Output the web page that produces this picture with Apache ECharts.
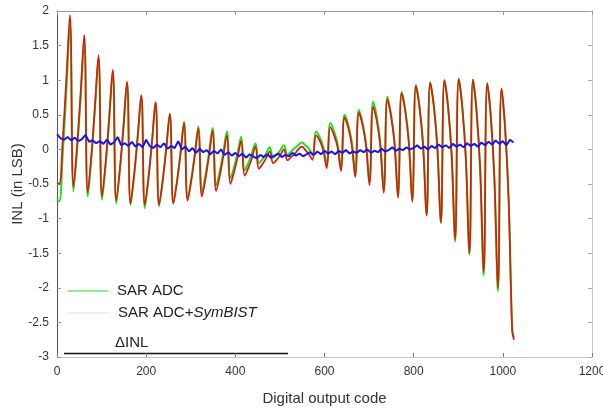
<!DOCTYPE html>
<html>
<head>
<meta charset="utf-8">
<script src="https://cdn.jsdelivr.net/npm/echarts@6/dist/echarts.min.js"></script>
<style>
  html, body { margin: 0; padding: 0; background: #fff; }
  #chart { width: 603px; height: 409px; }
</style>
</head>
<body>
<div id="chart"></div>
<script>
// ---- Data ----
const xTicks = [0, 200, 400, 600, 800, 1000, 1200];
const yTicks = [-3, -2.5, -2, -1.5, -1, -0.5, 0, 0.5, 1, 1.5, 2];

// sample codes for the INL traces: 0, then 5,13,21,29,... (4 samples per 32-code cycle), then 1025
const inlCodes = [0].concat(Array.from({ length: 128 }, (_, j) => 5 + 8 * j), [1025]);

// SAR ADC (green)
const sarAdc = [
  -0.72,
  -0.75, -0.05, 0.85, 1.80,
  -0.60, -0.02, 0.74, 1.55,
  -0.68, -0.14, 0.57, 1.32,
  -0.73, -0.24, 0.42, 1.12,
  -0.78, -0.31, 0.30, 0.96,
  -0.80, -0.38, 0.19, 0.78,
  -0.85, -0.44, 0.10, 0.68,
  -0.82, -0.46, 0.01, 0.52,
  -0.78, -0.47, -0.04, 0.40,
  -0.72, -0.44, -0.07, 0.33,
  -0.62, -0.37, -0.05, 0.31,
  -0.52, -0.32, -0.04, 0.26,
  -0.42, -0.26, -0.05, 0.18,
  -0.30, -0.20, -0.06, 0.09,
  -0.20, -0.14, -0.06, 0.03,
  -0.12, -0.08, -0.01, 0.06,
  -0.08, -0.03, 0.02, 0.06,
  0.10, 0.06, 0.01, -0.08,
  0.26, 0.18, 0.04, -0.22,
  0.38, 0.27, 0.09, -0.26,
  0.50, 0.36, 0.12, -0.35,
  0.57, 0.40, 0.10, -0.47,
  0.69, 0.48, 0.11, -0.60,
  0.76, 0.52, 0.11, -0.68,
  0.83, 0.58, 0.13, -0.74,
  0.93, 0.63, 0.08, -0.94,
  0.97, 0.64, 0.04, -1.06,
  1.00, 0.62, -0.07, -1.33,
  1.02, 0.61, -0.14, -1.52,
  1.01, 0.55, -0.29, -1.82,
  0.96, 0.48, -0.43, -2.05,
  0.88, 0.32, -0.72, -2.60,
  -2.72
];

// SAR ADC + SymBIST (red)
const sarAdcSymBist = [
  -0.48,
  -0.50, 0.16, 1.03, 1.94,
  -0.54, 0.05, 0.82, 1.65,
  -0.62, -0.09, 0.62, 1.36,
  -0.68, -0.19, 0.46, 1.15,
  -0.74, -0.28, 0.33, 0.98,
  -0.78, -0.36, 0.18, 0.78,
  -0.80, -0.41, 0.11, 0.68,
  -0.80, -0.45, 0.01, 0.51,
  -0.78, -0.47, -0.07, 0.38,
  -0.74, -0.46, -0.09, 0.30,
  -0.68, -0.43, -0.09, 0.27,
  -0.60, -0.39, -0.10, 0.20,
  -0.50, -0.33, -0.12, 0.12,
  -0.38, -0.27, -0.13, 0.04,
  -0.28, -0.21, -0.13, -0.03,
  -0.20, -0.15, -0.08, 0.00,
  -0.16, -0.11, -0.07, 0.00,
  0.04, -0.01, -0.07, -0.15,
  0.20, 0.13, -0.01, -0.27,
  0.32, 0.21, 0.04, -0.31,
  0.46, 0.32, 0.07, -0.40,
  0.53, 0.36, 0.06, -0.52,
  0.62, 0.42, 0.06, -0.63,
  0.72, 0.49, 0.09, -0.70,
  0.81, 0.56, 0.10, -0.76,
  0.92, 0.61, 0.07, -0.96,
  0.96, 0.64, 0.04, -1.06,
  1.00, 0.63, -0.05, -1.30,
  1.02, 0.62, -0.12, -1.50,
  1.01, 0.56, -0.25, -1.77,
  0.95, 0.48, -0.41, -2.00,
  0.88, 0.32, -0.72, -2.62,
  -2.75
];

// ΔINL (blue), sampled every 8 codes from 0 to 1024
const deltaCodes = Array.from({ length: 129 }, (_, j) => 8 * j);
const deltaInl = [
  0.22, 0.16, 0.14, 0.18, 0.13, 0.17, 0.12, 0.15, 0.21, 0.11,
  0.13, 0.09, 0.12, 0.08, 0.14, 0.07, 0.10, 0.18, 0.06, 0.09,
  0.05, 0.11, 0.04, 0.08, 0.03, 0.14, 0.05, 0.02, 0.07, 0.03,
  0.09, 0.01, 0.05, 0.02, 0.12, 0.00, 0.04, -0.03, 0.02, -0.05,
  0.01, -0.04, -0.01, -0.07, -0.02, -0.06, 0.00, -0.08, -0.04, -0.09,
  -0.05, -0.10, -0.06, -0.12, -0.07, -0.10, -0.13, -0.08, -0.11, -0.07,
  -0.12, -0.09, -0.06, -0.11, -0.08, -0.10, -0.05, -0.09, -0.06, -0.10,
  -0.07, -0.04, -0.08, -0.03, -0.07, -0.02, -0.06, -0.03, -0.07, -0.02,
  -0.05, -0.01, -0.06, -0.03, -0.05, -0.01, -0.04, 0.00, -0.05, -0.02,
  -0.04, 0.01, -0.03, -0.01, 0.03, -0.02, 0.01, -0.01, 0.03, 0.00,
  0.02, 0.06, 0.01, 0.04, 0.00, 0.05, 0.02, 0.07, 0.03, 0.06,
  0.02, 0.08, 0.04, 0.07, 0.03, 0.09, 0.05, 0.08, 0.04, 0.10,
  0.06, 0.11, 0.07, 0.13, 0.08, 0.12, 0.06, 0.14, 0.10
];

const legendNames = ['SAR ADC', 'SAR ADC+', 'SymBIST', 'ΔINL'];

// ---- Chart ----
const pair = (xs, ys) => ys.map((v, i) => [xs[i], v]);

const chart = echarts.init(document.getElementById('chart'), null, { renderer: 'canvas' });

const font = 'Liberation Sans, Arial, sans-serif';
const grid = { left: 57, right: 11, top: 11, bottom: 52, containLabel: false, outerBoundsMode: 'none' };

chart.setOption({
  animation: false,
  backgroundColor: '#ffffff',
  grid: grid,
  xAxis: [
    {
      type: 'value', min: 0, max: 1200, interval: 200, position: 'bottom',
      name: 'Digital output code', nameLocation: 'middle', nameGap: 34, nameMoveOverlap: false,
      nameTextStyle: { color: '#333', fontSize: 15, fontFamily: font },
      axisLine: { show: true, onZero: false, lineStyle: { color: '#c8c8c8', width: 1 } },
      axisTick: { show: true, inside: true, length: 4, lineStyle: { color: '#777' } },
      axisLabel: { color: '#333', fontSize: 12, fontFamily: font, margin: 9, formatter: (v) => String(v) },
      splitLine: { show: false }
    },
    {
      type: 'value', min: 0, max: 1200, interval: 200, position: 'top',
      axisLine: { show: true, onZero: false, lineStyle: { color: '#999', width: 1 } },
      axisTick: { show: true, inside: true, length: 4, lineStyle: { color: '#999' } },
      axisLabel: { show: false },
      splitLine: { show: false }
    }
  ],
  yAxis: [
    {
      type: 'value', min: -3, max: 2, interval: 0.5, position: 'left',
      name: 'INL (in LSB)', nameLocation: 'middle', nameGap: 32, nameRotate: 90, nameMoveOverlap: false,
      nameTextStyle: { color: '#333', fontSize: 15, fontFamily: font },
      axisLine: { show: true, onZero: false, lineStyle: { color: '#555', width: 1 } },
      axisTick: { show: true, inside: true, length: 4, lineStyle: { color: '#999' } },
      axisLabel: { color: '#333', fontSize: 12, fontFamily: font, margin: 8 },
      splitLine: { show: false }
    },
    {
      type: 'value', min: -3, max: 2, interval: 0.5, position: 'right',
      axisLine: { show: true, onZero: false, lineStyle: { color: '#c8c8c8', width: 1 } },
      axisTick: { show: true, inside: true, length: 4, lineStyle: { color: '#aaa' } },
      axisLabel: { show: false },
      splitLine: { show: false }
    }
  ],
  series: [
    {
      name: legendNames[0], type: 'line', showSymbol: false, smooth: 0.4,
      data: pair(inlCodes, sarAdc),
      lineStyle: { color: '#22dd22', width: 2 }, z: 2
    },
    {
      name: legendNames[1] + legendNames[2], type: 'line', showSymbol: false, smooth: 0.4,
      data: pair(inlCodes, sarAdcSymBist),
      lineStyle: { color: '#dd1a0a', width: 1.7 }, z: 3
    },
    {
      name: legendNames[3], type: 'line', showSymbol: false, smooth: false,
      data: pair(deltaCodes, deltaInl),
      lineStyle: { color: '#1515ee', width: 2 }, z: 4
    }
  ],
  graphic: [
    { type: 'line', shape: { x1: 68, y1: 291, x2: 108, y2: 291 }, style: { stroke: '#22dd22', lineWidth: 1.2 } },
    { type: 'text', left: 117, top: 283, style: { text: legendNames[0], fill: '#222', font: '15px ' + font } },
    { type: 'line', shape: { x1: 67, y1: 313, x2: 110, y2: 313 }, style: { stroke: '#f4d8d8', lineWidth: 1 } },
    { type: 'text', left: 118, top: 305, style: {
        text: '{n|' + legendNames[1] + '}{i|' + legendNames[2] + '}',
        rich: {
          n: { fill: '#222', font: '15px ' + font },
          i: { fill: '#222', font: 'italic 15px ' + font }
        }
      } },
    { type: 'text', left: 115, top: 335, style: { text: legendNames[3], fill: '#222', font: '15px ' + font } },
    { type: 'line', shape: { x1: 64, y1: 353.5, x2: 288, y2: 353.5 }, style: { stroke: '#111', lineWidth: 1.5 } }
  ]
});
</script>
</body>
</html>
